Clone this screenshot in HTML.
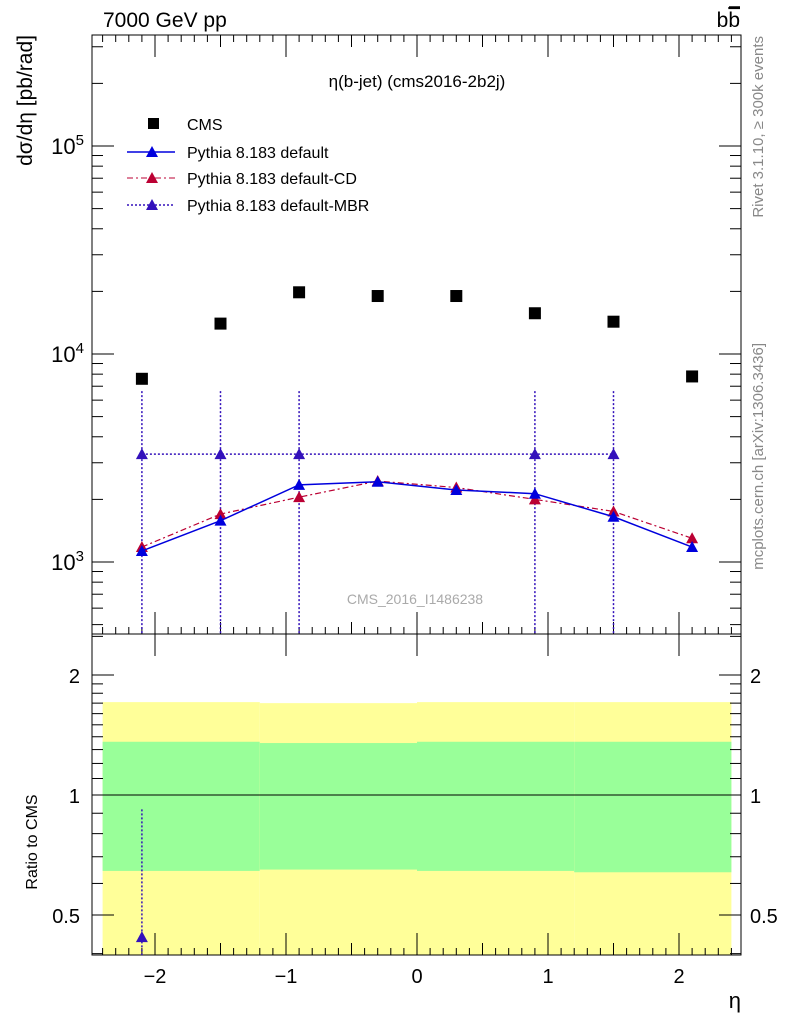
<!DOCTYPE html>
<html><head><meta charset="utf-8"><style>
body{margin:0;background:#fff;font-family:"Liberation Sans",sans-serif}
svg text{font-family:"Liberation Sans","DejaVu Sans",sans-serif}
</style></head><body>
<svg id="c" width="786" height="1024" xmlns="http://www.w3.org/2000/svg"></svg>
<script>
const etas=[-2.1,-1.5,-0.9,-0.3,0.3,0.9,1.5,2.1];
const cms=[7600,14000,19800,19000,19000,15700,14300,7800];
const pyDef=[1130,1580,2350,2430,2220,2130,1650,1180];
const pyCD=[1180,1700,2050,2450,2280,2000,1750,1300];
const mbrEtas=[-2.1,-1.5,-0.9,0.9,1.5];
const mbr=[3300,3300,3300,3300,3300];
const bandEdges=[-2.4,-1.2,0,1.2,2.4];
const yellowHi=[1.71,1.70,1.71,1.71];
const greenHi=[1.36,1.35,1.36,1.36];
const greenLo=[0.645,0.65,0.645,0.64];
const yellowLo=[0.3,0.3,0.3,0.3];
const mbrRatioEta=[-2.1];
const mbrRatio=[0.44];
const mbrRatioErrHi=[0.92];

const NS="http://www.w3.org/2000/svg";
const svg=document.getElementById('c');
function el(t,a,p){const e=document.createElementNS(NS,t);for(const k in a)e.setAttribute(k,a[k]);(p||svg).appendChild(e);return e;}
const L=92,R=741,T=35,M=634,B=955;
const X=v=>417+v*131;
const Y=v=>562-(Math.log10(v)-3)*208;
const YR=v=>795-Math.log2(v)*120;

const gB=el('g',{});

for(let i=0;i<4;i++){
 const x1=X(bandEdges[i]),x2=X(bandEdges[i+1]);
 const yb=Math.min(B,YR(yellowLo[i]));
 let r=el('rect',{x:x1,y:YR(yellowHi[i]),width:x2-x1,height:yb-YR(yellowHi[i]),fill:'#ffff99'},gB);
 
 r=el('rect',{x:x1,y:YR(greenHi[i]),width:x2-x1,height:YR(greenLo[i])-YR(greenHi[i]),fill:'#99ff99'},gB);
 
}
el('line',{x1:L,x2:R,y1:YR(1),y2:YR(1),stroke:'#000'});

let f=el('rect',{x:L,y:T,width:R-L,height:M-T,fill:'none',stroke:'#000','stroke-width':1});

f=el('rect',{x:L,y:M,width:R-L,height:B-M,fill:'none',stroke:'#000','stroke-width':1});


for(let k=-24;k<=24;k++){
 const v=k/10,x=X(v);if(x<L||x>R)continue;
 const len=(k%10===0)?22:(k%5===0?12:7);
 [M,B].forEach(y0=>{el('line',{x1:x,x2:x,y1:y0,y2:y0-len,stroke:'#000'});});
 el('line',{x1:x,x2:x,y1:T,y2:T+len,stroke:'#000'});
 if(k%10===0)el('line',{x1:x,x2:x,y1:M,y2:M+len,stroke:'#000'});
}
[-2,-1,0,1,2].forEach(v=>{const t=el('text',{x:X(v),y:983,'font-size':20,'text-anchor':'middle'});t.textContent=(v<0?'\u2212':'')+Math.abs(v);});
let t=el('text',{x:741,y:1008,'font-size':22,'text-anchor':'end'});t.textContent='η';

for(let d=2;d<=5;d++)for(let m=1;m<10;m++){
 const v=m*Math.pow(10,d),y=Y(v);if(y<T||y>M)continue;
 const len=m===1?22:11;
 el('line',{x1:L,x2:L+len,y1:y,y2:y,stroke:'#000'});
 el('line',{x1:R,x2:R-len,y1:y,y2:y,stroke:'#000'});
}
[[3,562],[4,354],[5,146]].forEach(([e,y])=>{const tt=el('text',{x:84,y:y+8,'font-size':22,'text-anchor':'end'});tt.innerHTML='10<tspan dy="-9" font-size="15">'+e+'</tspan>';});
t=el('text',{x:0,y:0,'font-size':21,'text-anchor':'end',transform:'translate(32,35) rotate(-90)'});t.textContent='dσ/dη [pb/rad]';

[0.4,0.5,0.6,0.7,0.8,0.9,1,1.1,1.2,1.3,1.4,1.5,1.6,1.7,1.8,1.9,2,2.5].forEach(v=>{
 const y=YR(v);if(y<M||y>B)return;const len=(v===0.5||v===1||v===2)?22:11;
 el('line',{x1:L,x2:L+len,y1:y,y2:y,stroke:'#000'});el('line',{x1:R,x2:R-len,y1:y,y2:y,stroke:'#000'});
});
[[2,'2'],[1,'1'],[0.5,'0.5']].forEach(([v,s])=>{
 let a=el('text',{x:80,y:YR(v)+8,'font-size':20,'text-anchor':'end'});a.textContent=s;
 a=el('text',{x:750,y:YR(v)+8,'font-size':20});a.textContent=s;
});
t=el('text',{x:0,y:0,'font-size':16,'text-anchor':'middle',transform:'translate(37,842) rotate(-90)'});t.textContent='Ratio to CMS';

const cM='#3311bb';
mbrEtas.forEach((e,i)=>{const x=X(e);const l=el('line',{x1:x,x2:x,y1:Y(mbr[i])-63,y2:M,stroke:cM,'stroke-dasharray':'2,2','stroke-width':1.5});});
let p=el('polyline',{points:mbrEtas.map((e,i)=>X(e)+','+Y(mbr[i])).join(' '),fill:'none',stroke:cM,'stroke-dasharray':'2,2','stroke-width':1.5});

function tri(x,y,c,n){const e=el('polygon',{points:`${x-6},${y+5} ${x+6},${y+5} ${x},${y-6}`,fill:c});}
mbrEtas.forEach((e,i)=>tri(X(e),Y(mbr[i]),cM,'mbr-point'));
mbrRatioEta.forEach((e,i)=>{const x=X(e);el('line',{x1:x,x2:x,y1:YR(mbrRatioErrHi[i]),y2:B,stroke:cM,'stroke-dasharray':'2,2','stroke-width':1.5});tri(x,YR(mbrRatio[i]),cM,'mbr-ratio-point');});

const cC='#bb0033';
p=el('polyline',{points:etas.map((e,i)=>X(e)+','+Y(pyCD[i])).join(' '),fill:'none',stroke:cC,'stroke-dasharray':'6,3,2,3','stroke-width':1.2});

etas.forEach((e,i)=>tri(X(e),Y(pyCD[i]),cC,'cd-point'));
const cD='#0000dd';
p=el('polyline',{points:etas.map((e,i)=>X(e)+','+Y(pyDef[i])).join(' '),fill:'none',stroke:cD,'stroke-width':1.5});

etas.forEach((e,i)=>tri(X(e),Y(pyDef[i]),cD,'default-point'));
etas.forEach((e,i)=>{const r=el('rect',{x:X(e)-6,y:Y(cms[i])-6,width:12,height:12,fill:'#000'});});

const lg=el('g',{});
el('rect',{x:148,y:118,width:11,height:11,fill:'#000'},lg);
const items=[['CMS',124],['Pythia 8.183 default',152],['Pythia 8.183 default-CD',178],['Pythia 8.183 default-MBR',205]];
items.forEach(([s,y])=>{const a=el('text',{x:187,y:y+6,'font-size':16},lg);a.textContent=s;});
el('line',{x1:127,x2:175,y1:152,y2:152,stroke:cD,'stroke-width':1.5},lg);tri(152,152,cD,'legend-marker');
el('line',{x1:127,x2:175,y1:178,y2:178,stroke:cC,'stroke-dasharray':'6,3,2,3'},lg);tri(152,178,cC,'legend-marker');
el('line',{x1:127,x2:175,y1:205,y2:205,stroke:cM,'stroke-dasharray':'2,2','stroke-width':1.5},lg);tri(152,205,cM,'legend-marker');

t=el('text',{x:103,y:27,'font-size':21});t.textContent='7000 GeV pp';
t=el('text',{x:740,y:27,'font-size':21,'text-anchor':'end'});t.innerHTML='b<tspan text-decoration="overline">b</tspan>';
el('line',{x1:729,x2:740,y1:7,y2:7,stroke:'#000','stroke-width':1.5});
t=el('text',{x:417,y:87,'font-size':17,'text-anchor':'middle'});t.textContent='η(b-jet) (cms2016-2b2j)';
t=el('text',{x:415,y:604,'font-size':14,'text-anchor':'middle',fill:'#aaaaaa'});t.textContent='CMS_2016_I1486238';
t=el('text',{x:0,y:0,'font-size':15,'text-anchor':'end',fill:'#888',transform:'translate(763,36) rotate(-90)'});t.textContent='Rivet 3.1.10, ≥ 300k events';
t=el('text',{x:0,y:0,'font-size':15,'text-anchor':'end',fill:'#888',transform:'translate(763,343) rotate(-90)'});t.textContent='mcplots.cern.ch [arXiv:1306.3436]';
</script>
</body></html>
